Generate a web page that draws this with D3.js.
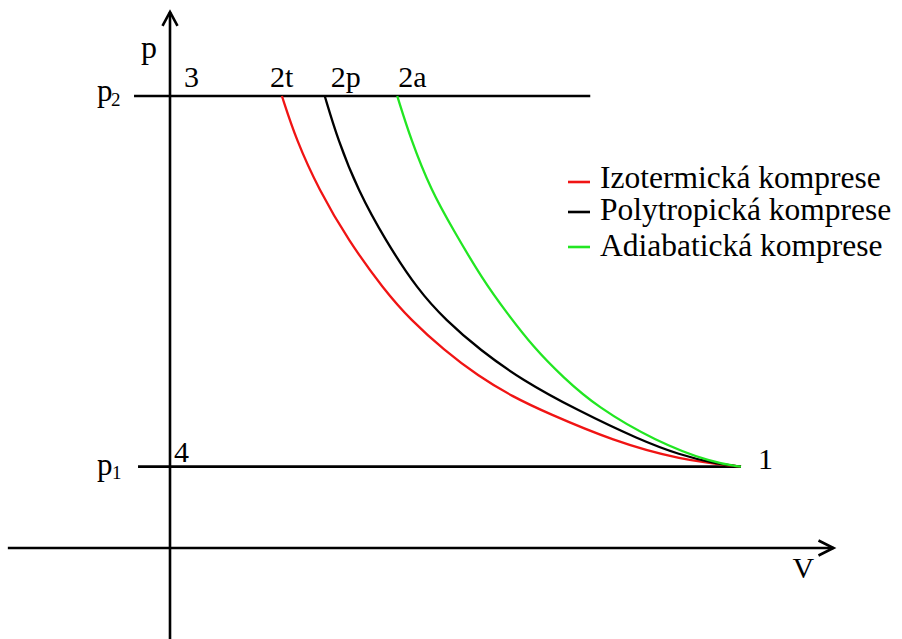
<!DOCTYPE html>
<html>
<head>
<meta charset="utf-8">
<script src="https://cdn.jsdelivr.net/npm/d3@7"></script>
</head>
<body style="margin:0;background:#fff">
<div id="chart"></div>
<script>
// tlaky a objem (relativni jednotky: V1 = 100, p2 = 100)
const p1 = 18;
const p2 = 100;
const V1 = 100;

// body krivek [V, p]
const izotermicka = [
  [19.6, 100], [22.1, 90.3], [26.1, 79.2], [31.2, 68.1], [37.5, 57.1], [42.2, 50.4],
  [48.0, 43.8], [53.9, 38.1], [60.1, 33.4], [66.0, 29.9], [77.6, 23.7], [89.3, 19.5],
  [100, 18]
];
const polytropicka = [
  [27.1, 100], [29.4, 90.3], [32.9, 79.2], [37.7, 68.1], [43.4, 57.1], [48.3, 50.4],
  [54.3, 43.8], [61.6, 37.2], [71.3, 30.5], [82.3, 23.9], [89.3, 20.6], [95.1, 18.8],
  [100, 18]
];
const adiabaticka = [
  [39.8, 100], [42.2, 90.3], [45.7, 79.2], [49.6, 70.4], [54.8, 59.3], [59.0, 52.0],
  [63.6, 44.5], [68.8, 37.8], [74.8, 31.2], [84.9, 23.7], [95.1, 18.8], [100, 18]
];

const nazvy = ["Izotermická komprese", "Polytropická komprese", "Adiabatická komprese"];
const barvy = ["#f01414", "#000000", "#22e622"];
const krivky = [izotermicka, polytropicka, adiabaticka];
const bodyNahore = ["2t", "2p", "2a"];

const width = 902;
const height = 639;
const font = "'Liberation Serif', 'Times New Roman', 'DejaVu Serif', serif";

const svg = d3.select("#chart")
  .append("svg")
  .attr("width", width)
  .attr("height", height);

// meritka
const x = d3.scaleLinear().domain([0, 100]).range([170, 741]);
const y = d3.scaleLinear().domain([0, 100]).range([548, 96]);

const osa = { stroke: "#000", "stroke-width": 2.6, fill: "none" };
function styl(sel, s) { Object.entries(s).forEach(([k, v]) => sel.attr(k, v)); return sel; }

// osa V
styl(svg.append("line")
  .attr("x1", x(-28.4)).attr("x2", x(116.2))
  .attr("y1", y(0)).attr("y2", y(0)), osa);
styl(svg.append("polyline")
  .attr("points", [[x(116.2) - 15, y(0) - 7.5], [x(116.2), y(0)], [x(116.2) - 15, y(0) + 7.5]].join(" ")), osa);

// osa p
styl(svg.append("line")
  .attr("x1", x(0)).attr("x2", x(0))
  .attr("y1", y(-21)).attr("y2", y(118.6)), osa);
styl(svg.append("polyline")
  .attr("points", [[x(0) - 7.5, y(118.6) + 14], [x(0), y(118.6)], [x(0) + 7.5, y(118.6) + 14]].join(" ")), osa);

// izobary p1 a p2
styl(svg.append("line")
  .attr("x1", x(-6.3)).attr("x2", x(73.6))
  .attr("y1", y(p2)).attr("y2", y(p2)), osa);
styl(svg.append("line")
  .attr("x1", x(-5.6)).attr("x2", x(V1))
  .attr("y1", y(p1)).attr("y2", y(p1)), osa);

// krivky komprese
const line = d3.line()
  .x(d => x(d[0]))
  .y(d => y(d[1]))
  .curve(d3.curveBasis);

svg.append("g")
  .selectAll("path")
  .data(krivky)
  .join("path")
  .attr("d", line)
  .attr("fill", "none")
  .attr("stroke", (d, i) => barvy[i])
  .attr("stroke-width", 2.3);

// popisky
const fs = 30;
function txt(t, px, py, size) {
  return svg.append("text").attr("x", px).attr("y", py)
    .attr("font-family", font)
    .style("font-family", font)
    .attr("fill", "#000")
    .style("font-size", (size || fs) + "px").text(t);
}

txt("p", x(0) - 29, y(118.6) + 46, 32);
txt("3", x(0) + 14, y(p2) - 9);
krivky.forEach((k, i) => {
  const off = [-12, 6, 1][i];
  txt(bodyNahore[i], x(k[0][0]) + off, y(p2) - 9);
});
txt("4", x(0) + 4, y(p1) - 5);
txt("1", x(V1) + 17, y(p1) + 2);
txt("V", x(116.2) - 41, y(0) + 30);

// p2, p1 s indexy
txt("p", 97, y(p2) + 5, 31);
txt("2", 111, y(p2) + 10, 19);
txt("p", 97, y(p1) + 8, 31);
txt("1", 112, y(p1) + 12, 19);

// legenda
const legY = [182, 212, 247];
const leg = svg.append("g")
  .selectAll("g")
  .data(nazvy)
  .join("g")
  .attr("transform", (d, i) => `translate(568,${legY[i]})`);

leg.append("line")
  .attr("x1", 0).attr("x2", 22)
  .attr("y1", 0).attr("y2", 0)
  .attr("stroke", (d, i) => barvy[i])
  .attr("stroke-width", 2.6);

leg.append("text")
  .attr("x", 32)
  .attr("y", (d, i) => [6, 8, 9][i])
  .attr("font-family", font)
  .style("font-family", font)
  .style("font-size", "31.5px")
  .text(d => d);
</script>
</body>
</html>
